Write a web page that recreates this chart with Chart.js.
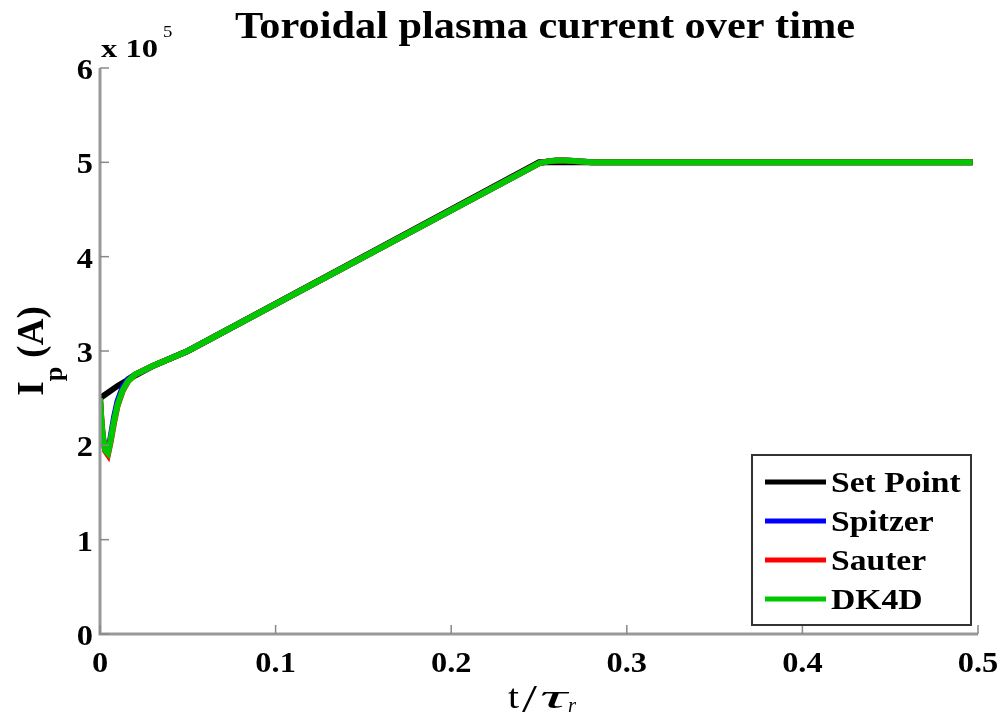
<!DOCTYPE html>
<html><head><meta charset="utf-8">
<script src="https://cdn.jsdelivr.net/npm/chart.js@4.4.1/dist/chart.umd.min.js"></script>
<style>html,body{margin:0;padding:0;background:#fff}#wrap{width:1007px;height:718px;position:relative}</style>
</head><body><div id="wrap"><canvas id="c" width="1007" height="718"></canvas></div>
<script>
// values in units of 1e5 A
const seriesNames = ["Set Point","Spitzer","Sauter","DK4D"];
const seriesColors = ["#000000","#0000ff","#ff0000","#00c800"];
const tSet = [0, 0.01, 0.02, 0.03, 0.05, 0.25, 0.497];
const ySet = [2.50, 2.63, 2.74, 2.84, 3.00, 5.00, 5.00];
const tSim = [0, 0.001, 0.002, 0.003, 0.0045, 0.006, 0.008, 0.01, 0.013, 0.016, 0.02, 0.03, 0.05, 0.25, 0.255, 0.26, 0.265, 0.27, 0.28, 0.497];
const ySpitzer = [2.50, 2.18, 2.03, 1.95, 1.93, 2.08, 2.30, 2.47, 2.62, 2.70, 2.75, 2.84, 3.00, 4.99, 5.01, 5.02, 5.02, 5.015, 5.00, 5.00];
const ySauter  = [2.50, 2.22, 2.05, 1.94, 1.90, 2.03, 2.24, 2.42, 2.58, 2.68, 2.75, 2.84, 3.00, 4.99, 5.01, 5.02, 5.02, 5.015, 5.00, 5.00];
const yDK4D    = [2.50, 2.20, 2.04, 1.95, 1.92, 2.05, 2.26, 2.43, 2.59, 2.68, 2.75, 2.84, 3.00, 4.99, 5.01, 5.02, 5.02, 5.015, 5.00, 5.00];
const xTicks = [0, 0.1, 0.2, 0.3, 0.4, 0.5];
const yTicks = [0, 1, 2, 3, 4, 5, 6];

const pts = (ts, ys) => ts.map((t, i) => ({x: t, y: ys[i]}));
const allY = [ySet, ySpitzer, ySauter, yDK4D];
const allT = [tSet, tSim, tSim, tSim];
const datasets = seriesNames.map((n, i) => ({
  label: n, data: pts(allT[i], allY[i]), borderColor: seriesColors[i], backgroundColor: seriesColors[i],
  borderWidth: 6, pointRadius: 0, showLine: true, tension: 0, order: 4 - i
}));

const SERIF = '"Liberation Serif","DejaVu Serif",serif';
function txt(ctx, s, x, y, font, hs, align) {
  ctx.save();
  ctx.font = font; ctx.textBaseline = 'alphabetic'; ctx.textAlign = 'left';
  const w = ctx.measureText(s).width * hs;
  let x0 = x;
  if (align === 'center') x0 = x - w / 2; else if (align === 'right') x0 = x - w;
  ctx.translate(x0, y); ctx.scale(hs, 1);
  ctx.fillText(s, 0, 0);
  ctx.restore();
  return w;
}
function fit(ctx, s, x, y, font, width) {
  ctx.save(); ctx.font = font; const w = ctx.measureText(s).width; ctx.restore();
  return txt(ctx, s, x, y, font, width / w, 'left');
}
const deco = {
  id: 'deco',
  afterDraw(chart) {
    const ctx = chart.ctx, a = chart.chartArea, xs = chart.scales.x, ys = chart.scales.y;
    ctx.save();
    // axis lines
    ctx.strokeStyle = '#999'; ctx.lineWidth = 3;
    ctx.beginPath(); ctx.moveTo(a.left, a.top); ctx.lineTo(a.left, a.bottom); ctx.lineTo(a.right, a.bottom); ctx.stroke();
    // inward ticks
    ctx.lineWidth = 1.5; ctx.strokeStyle = '#888';
    xTicks.forEach(v => { const px = xs.getPixelForValue(v); ctx.beginPath(); ctx.moveTo(px, a.bottom); ctx.lineTo(px, a.bottom - 9); ctx.stroke(); });
    yTicks.forEach(v => { const py = ys.getPixelForValue(v); ctx.beginPath(); ctx.moveTo(a.left, py); ctx.lineTo(a.left + 9, py); ctx.stroke(); });
    // tick labels
    ctx.fillStyle = '#000';
    const tf = 'bold 30px ' + SERIF;
    xTicks.forEach(v => txt(ctx, String(v), xs.getPixelForValue(v), a.bottom + 38, tf, 1.08, 'center'));
    yTicks.forEach(v => txt(ctx, String(v), a.left - 7, ys.getPixelForValue(v) + 11, tf, 1.08, 'right'));
    // exponent label
    fit(ctx, 'x 10', a.left + 1, a.top - 11, 'bold 25px ' + SERIF, 57);
    txt(ctx, '5', a.left + 63, a.top - 31, '17px ' + SERIF, 1.1, 'left');
    // title
    ctx.font = 'bold 38px ' + SERIF;
    const tw = ctx.measureText('Toroidal plasma current over time').width;
    txt(ctx, 'Toroidal plasma current over time', 545, 38, 'bold 38px ' + SERIF, 620 / tw, 'center');
    // x title: t/τ_r
    fit(ctx, 't', 508, 708, '34px ' + SERIF, 11);
    fit(ctx, '/', 522, 712, '40px ' + SERIF, 15);
    fit(ctx, '\u03C4', 540, 708, 'italic 34px ' + SERIF, 27);
    fit(ctx, 'r', 568, 712, 'italic 22px ' + SERIF, 8);
    // y title: I_p (A) rotated
    ctx.save();
    ctx.translate(43, 351); ctx.rotate(-Math.PI / 2);
    const f1 = 'bold 37px ' + SERIF, f2 = 'bold 26px ' + SERIF;
    ctx.font = f1; const w1 = ctx.measureText('I').width, w3 = ctx.measureText(' (A)').width;
    ctx.font = f2; const w2 = ctx.measureText('p').width;
    let xx = -(w1 + w2 + w3) / 2;
    txt(ctx, 'I', xx, 0, f1, 1, 'left'); xx += w1;
    txt(ctx, 'p', xx, 19, f2, 1, 'left'); xx += w2;
    txt(ctx, ' (A)', xx, 0, f1, 1, 'left');
    ctx.restore();
    // legend
    const lx = 752, ly = 455, lw = 219, lh = 170;
    ctx.fillStyle = '#fff'; ctx.fillRect(lx, ly, lw, lh);
    ctx.strokeStyle = '#333'; ctx.lineWidth = 2; ctx.strokeRect(lx, ly, lw, lh);
    seriesNames.forEach((n, i) => {
      const cy = ly + 27 + i * 39;
      ctx.strokeStyle = seriesColors[i]; ctx.lineWidth = 5;
      ctx.beginPath(); ctx.moveTo(lx + 13, cy); ctx.lineTo(lx + 74, cy); ctx.stroke();
      ctx.fillStyle = '#000';
      txt(ctx, n, lx + 79, cy + 10, 'bold 30px ' + SERIF, 1.12, 'left');
    });
    ctx.restore();
  }
};

new Chart(document.getElementById('c'), {
  type: 'scatter',
  data: { datasets },
  options: {
    responsive: false, animation: false, devicePixelRatio: 1,
    layout: { padding: { left: 0, right: 29, top: 68, bottom: 0 } },
    plugins: { legend: { display: false }, title: { display: false }, tooltip: { enabled: false } },
    scales: {
      x: { type: 'linear', min: 0, max: 0.5, border: { display: false },
           grid: { display: false }, ticks: { display: false },
           afterFit(s) { s.height = 84; } },
      y: { type: 'linear', min: 0, max: 6, border: { display: false },
           grid: { display: false }, ticks: { display: false },
           afterFit(s) { s.width = 100; } }
    }
  },
  plugins: [deco]
});
</script></body></html>
